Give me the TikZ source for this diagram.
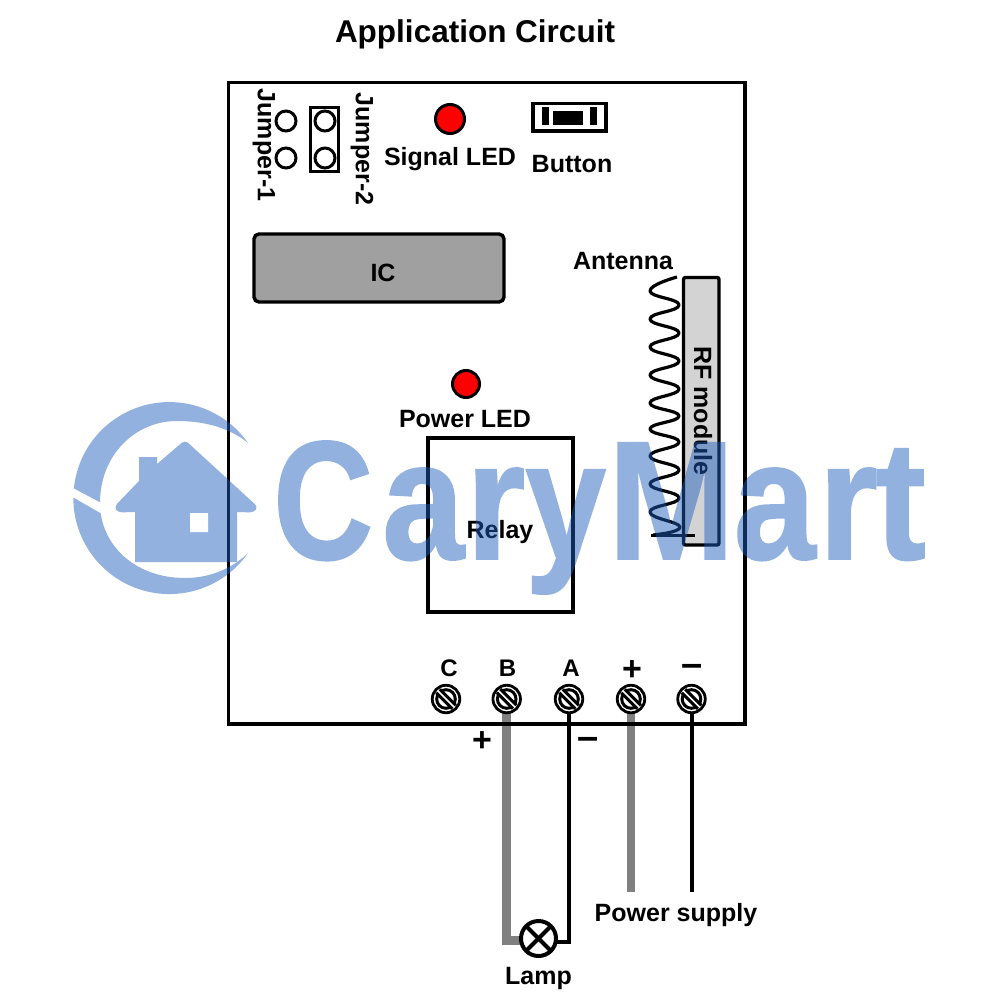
\documentclass[tikz,border=0pt]{standalone}
\usepackage{fontspec}
\setmainfont{Liberation Sans}[BoldFont={Liberation Sans Bold}]
\newfontfamily\wmfont{Liberation Sans Bold}[FakeBold=1.1]
\definecolor{wm}{RGB}{31,94,190}
\definecolor{wire}{RGB}{128,128,128}
\definecolor{icgray}{RGB}{160,160,160}
\definecolor{rfgray}{RGB}{211,211,211}
\definecolor{ledred}{RGB}{255,0,0}
\newcommand{\fs}[1]{\fontsize{#1}{#1}\selectfont\bfseries}
\newcommand{\xs}[2]{\scalebox{#1}[1]{#2}}
\pgfdeclarelayer{back}
\pgfsetlayers{back,main}
\tikzset{
  x=1pt,y=-1pt,
  lbl/.style={inner sep=0pt,font=\fs{25}},
  heavy/.style={draw=black,line width=3.4pt},
  jpin/.style={circle,draw=black,line width=3pt,fill=white,minimum size=20pt,inner sep=0pt},
  led/.style={circle,draw=black,line width=3pt,fill=ledred,minimum size=29pt,inner sep=0pt},
  screw/.style={circle,draw=black,line width=2.8pt,fill=white,minimum size=27.5pt,inner sep=0pt,
    path picture={
      \draw[line width=3pt] (path picture bounding box.center) circle[radius=9.3pt];
      \draw[line width=8pt] ([shift={(-8pt,8pt)}]path picture bounding box.center) -- ([shift={(8pt,-8pt)}]path picture bounding box.center);
      \draw[white,line width=1.5pt] ([shift={(-9pt,9pt)}]path picture bounding box.center) -- ([shift={(9pt,-9pt)}]path picture bounding box.center);
    }},
  lampnode/.style={circle,draw=black,line width=4pt,fill=white,minimum size=35pt,inner sep=0pt,
    path picture={
      \draw[line width=4pt] (path picture bounding box.south west) -- (path picture bounding box.north east);
      \draw[line width=4pt] (path picture bounding box.north west) -- (path picture bounding box.south east);
    }},
  graywire/.style={draw=wire,line width=8.8pt},
  blackwire/.style={draw=black,line width=4pt},
}
\begin{document}
\begin{tikzpicture}
\useasboundingbox (0,0) rectangle (1000,1000);
\begin{pgfonlayer}{back}
  \fill[white] (0,0) rectangle (1000,1000);
\end{pgfonlayer}
\node[lbl,font=\fs{31.5}] (title) at (475,34) {Application Circuit};

% terminals and lamp
\node[screw] (sc) at (446,699) {};
\node[screw] (sb) at (506.7,699) {};
\node[screw] (sa) at (569,699) {};
\node[screw] (sp) at (631,699) {};
\node[screw] (sm) at (691.5,699) {};
\node[lampnode] (lamp) at (538.5,938.5) {};
\coordinate (lg) at (506.7,940.5);
\coordinate (lk) at (569,942);
\coordinate (pp) at (631,892);
\coordinate (pm) at (691.5,892);

% wires lie behind the board outline and the terminals
\begin{pgfonlayer}{back}
  \draw[graywire] (sb.center) -- (lg) -- (lamp.center |- lg);
  \draw[blackwire] (sa.center) -- (lk) -- (lamp.center |- lk);
  \draw[graywire] (sp.center) -- (pp);
  \draw[blackwire] (sm.center) -- (pm);
\end{pgfonlayer}

% board
\draw[heavy] (228.5,82.5) rectangle (745,724);

% jumpers
\node[lbl,rotate=-90] (j1) at (264,145) {Jumper-1};
\node[jpin] (p1) at (286,121) {};
\node[jpin] (p2) at (286,158) {};
\draw[draw=black,line width=3pt] (310.5,108) rectangle (338.5,172);
\node[jpin] (p3) at (325,121) {};
\node[jpin] (p4) at (325,158) {};
\node[lbl,rotate=-90] (j2) at (362,149) {Jumper-2};

% signal LED and button
\node[led] (sled) at (450,119) {};
\node[lbl] (sledt) at (450,159) {Signal LED};
\draw[draw=black,line width=3.2pt] (533,103.5) rectangle (606,131);
\fill[black] (542,107) rectangle (548.5,125);
\fill[black] (553,111) rectangle (583,125);
\fill[black] (590,107) rectangle (597,125);
\node[lbl] (btn) at (572,164) {Button};

% IC
\node[draw=black,line width=3.4pt,fill=icgray,rounded corners=5pt,minimum width=250pt,minimum height=68pt,inner sep=0pt] (ic) at (379,268) {};
\node[lbl] (ict) at (383,273) {IC};

% antenna and RF module
\node[lbl] (ant) at (623,261) {Antenna};
\draw[draw=black,line width=3.4pt,fill=rfgray,rounded corners=2pt] (683.5,277.5) rectangle (719,545);
\node[lbl,rotate=-90] (rf) at (703,411) {RF module};
\draw[line width=3.2pt,line join=round] plot[smooth,tension=0.85] coordinates {
 (677,277) (650,291) (679,305) (650,319) (679,333) (650,347) (679,361) (650,375)
 (679,389) (650,403) (679,416) (650,429) (679,442) (650,456) (679,470) (650,484)
 (679,498) (650,512) (680,527) (653,535)};
\draw[line width=3.8pt] (651,535.5) -- (695,535.5);

% power LED and relay
\node[led,minimum size=27pt] (pled) at (466,384) {};
\node[lbl] (pledt) at (465,419) {Power LED};
\draw[draw=black,line width=3.2pt] (428,438) rectangle (573,612);
\node[lbl] (relay) at (500,532) {Relay};

% terminal labels
\node[lbl,font=\fs{24}] at (449,668) {C};
\node[lbl,font=\fs{24}] at (507.5,668) {B};
\node[lbl,font=\fs{24}] at (571,668) {A};
\node[lbl,font=\fs{34}] at (632,671) {+};
\node[lbl,font=\fs{38}] at (692,670) {–};
\node[lbl,font=\fs{34}] at (482,742) {+};
\node[lbl,font=\fs{38}] at (588,743) {–};
\node[lbl] (ps) at (676,915) {Power supply};
\node[lbl] (lampt) at (538.5,978) {Lamp};

% watermark
\begin{scope}[transparency group,opacity=0.48]
  \fill[wm] (248,443) arc[start angle=-35,end angle=-325,radius=96]
    .. controls (230,570) and (208,578) .. (185,578)
    .. controls (135,578) and (100,545) .. (100,503)
    .. controls (100,455) and (135,421) .. (177,421)
    .. controls (205,421) and (230,428) .. (248,443) -- cycle;
  \fill[white] (70,486.5) -- (70,495.5) -- (104,515) -- (103,504) -- cycle;
  \fill[wm] (139,457) -- (157,457) -- (157,464) [rounded corners=4pt] -- (185,440) -- (258,507)
    -- (254,512.5) [sharp corners] -- (237,512) -- (237,562) -- (135,562) -- (135,512)
    [rounded corners=4pt] -- (118,512.5) -- (114,507) [sharp corners] -- (139,481) -- cycle;
  \fill[white] (190,513) rectangle (208,532);
  \node[anchor=base west,inner sep=0pt,text=wm,font=\fontsize{169}{169}\selectfont\wmfont] (wmt) at (273,559)
    {\xs{.82}{C}\kern9pt\xs{.87}{a}\kern2pt\xs{.9}{r}\xs{.86}{y}\kern2pt\xs{.9}{M}\kern-1pt\xs{.87}{a}\kern3pt\xs{.9}{r}\kern-2.5pt\xs{.9}{t}};
\end{scope}
\end{tikzpicture}
\end{document}
